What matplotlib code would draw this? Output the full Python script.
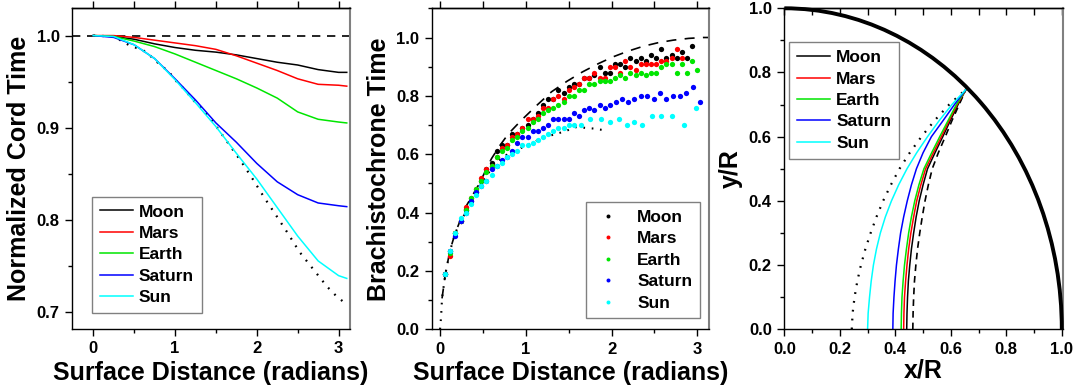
import matplotlib
matplotlib.use('Agg')
import matplotlib.pyplot as plt
from matplotlib.patches import Arc
from matplotlib.ticker import MultipleLocator, FormatStrFormatter

plt.rcParams['font.family'] = ['Liberation Sans', 'DejaVu Sans']
plt.rcParams['font.weight'] = 'bold'
plt.rcParams['axes.labelweight'] = 'bold'

# ---- dados: painel 1 (tempo de corda normalizado) ----
dist = [0, 0.25, 0.5, 0.75, 1.0, 1.25, 1.5, 1.75, 2.0, 2.25, 2.5, 2.75, 3.0, 3.1]
cord_moon = [1.0, 0.999, 0.996, 0.991, 0.987, 0.984, 0.982, 0.979, 0.975, 0.971, 0.968, 0.963, 0.960, 0.960]
cord_mars = [1.0, 1.0, 0.998, 0.995, 0.992, 0.989, 0.985, 0.978, 0.970, 0.962, 0.953, 0.947, 0.946, 0.945]
cord_earth = [1.0, 0.999, 0.994, 0.988, 0.980, 0.971, 0.962, 0.953, 0.943, 0.932, 0.917, 0.909, 0.906, 0.905]
cord_saturn = [1.0, 0.998, 0.990, 0.975, 0.953, 0.930, 0.905, 0.884, 0.861, 0.841, 0.827, 0.818, 0.815, 0.814]
cord_sun = [1.0, 0.999, 0.990, 0.975, 0.952, 0.927, 0.901, 0.872, 0.844, 0.813, 0.782, 0.755, 0.739, 0.736]
cord_lim_x = [0, 0.25, 0.45, 0.61, 0.71, 0.82, 0.92, 1.02, 1.12, 1.22, 1.35, 1.49, 1.65, 1.81,
              1.95, 2.09, 2.24, 2.38, 2.52, 2.69, 2.86, 2.97, 3.08]
cord_lim_y = [1.0, 0.999, 0.989, 0.984, 0.977, 0.968, 0.961, 0.950, 0.941, 0.930, 0.919, 0.903, 0.883, 0.863,
              0.844, 0.824, 0.804, 0.785, 0.765, 0.746, 0.727, 0.717, 0.709]
cord_ref_x = [-0.26, 3.14]
cord_ref_y = [1.0, 1.0]

# ---- dados: painel 2 (tempo da braquistocrona) ----
x_scan = [0.06, 0.12, 0.18, 0.24, 0.30, 0.36, 0.42, 0.48, 0.54, 0.60, 0.66, 0.72, 0.78, 0.84, 0.90,
          0.96, 1.02, 1.08, 1.14, 1.20, 1.26, 1.32, 1.38, 1.44, 1.50, 1.56, 1.62, 1.68, 1.74, 1.80,
          1.86, 1.92, 1.98, 2.04, 2.10, 2.16, 2.22, 2.28, 2.34, 2.40, 2.46, 2.52, 2.58, 2.64, 2.70,
          2.76, 2.82, 2.88, 2.94, 3.00]
brach_moon = [0.19, 0.27, 0.33, 0.37, 0.41, 0.44, 0.47, 0.51, 0.55, 0.57, 0.61, 0.63, 0.63, 0.67, 0.67,
              0.69, 0.70, 0.72, 0.74, 0.77, 0.79, 0.79, 0.82, 0.81, 0.83, 0.84, 0.84, 0.86, 0.86, 0.87,
              0.90, 0.88, 0.88, 0.91, 0.91, 0.90, 0.93, 0.92, 0.93, 0.92, 0.94, 0.93, 0.96, 0.93, 0.94,
              0.93, 0.95, 0.93, 0.97]
brach_mars = [0.19, 0.25, 0.33, 0.37, 0.42, 0.45, 0.48, 0.52, 0.55, 0.56, 0.59, 0.62, 0.63, 0.66, 0.67,
              0.69, 0.72, 0.72, 0.73, 0.76, 0.76, 0.79, 0.80, 0.79, 0.82, 0.83, 0.84, 0.86, 0.86, 0.88,
              0.86, 0.86, 0.90, 0.90, 0.88, 0.92, 0.90, 0.89, 0.91, 0.91, 0.91, 0.91, 0.92, 0.92, 0.93,
              0.96, 0.93]
brach_earth = [0.19, 0.26, 0.33, 0.37, 0.41, 0.45, 0.48, 0.51, 0.54, 0.56, 0.59, 0.61, 0.62, 0.65, 0.66,
               0.68, 0.69, 0.71, 0.72, 0.74, 0.75, 0.76, 0.77, 0.78, 0.80, 0.80, 0.82, 0.82, 0.84, 0.84,
               0.85, 0.85, 0.85, 0.86, 0.87, 0.86, 0.88, 0.87, 0.88, 0.87, 0.88, 0.88, 0.90, 0.91, 0.91,
               0.88, 0.91, 0.88, 0.92, 0.89]
saturn_x = [0.06, 0.12, 0.18, 0.24, 0.30, 0.36, 0.42, 0.48, 0.54, 0.60, 0.66, 0.72, 0.78, 0.84, 0.90,
            0.96, 1.02, 1.08, 1.14, 1.20, 1.26, 1.32, 1.38, 1.44, 1.50, 1.56, 1.62, 1.68, 1.74, 1.80,
            1.86, 1.92, 1.98, 2.05, 2.12, 2.19, 2.26, 2.34, 2.41, 2.49, 2.56, 2.64, 2.72, 2.80, 2.87,
            2.95, 3.03]
brach_saturn = [0.19, 0.27, 0.32, 0.37, 0.40, 0.44, 0.47, 0.49, 0.51, 0.55, 0.56, 0.58, 0.59, 0.61, 0.64,
                0.66, 0.66, 0.68, 0.68, 0.69, 0.70, 0.72, 0.72, 0.72, 0.72, 0.74, 0.73, 0.75, 0.76, 0.75,
                0.77, 0.76, 0.77, 0.78, 0.79, 0.78, 0.79, 0.80, 0.80, 0.79, 0.81, 0.79, 0.80, 0.80, 0.81,
                0.83, 0.78]
sun_x = [0.06, 0.12, 0.18, 0.24, 0.30, 0.36, 0.42, 0.48, 0.54, 0.60, 0.66, 0.72, 0.78, 0.84, 0.90,
         0.96, 1.02, 1.08, 1.14, 1.20, 1.26, 1.32, 1.38, 1.44, 1.50, 1.56, 1.64, 1.75, 1.88, 1.98,
         2.09, 2.18, 2.26, 2.36, 2.47, 2.58, 2.71, 2.85, 2.98]
brach_sun = [0.19, 0.27, 0.33, 0.38, 0.40, 0.43, 0.46, 0.49, 0.51, 0.53, 0.56, 0.57, 0.59, 0.60, 0.61,
             0.63, 0.63, 0.64, 0.65, 0.66, 0.67, 0.68, 0.69, 0.69, 0.70, 0.70, 0.70, 0.72, 0.72, 0.71,
             0.72, 0.70, 0.71, 0.70, 0.73, 0.73, 0.73, 0.70, 0.76]
upper_x = [0.023, 0.062, 0.117, 0.178, 0.237, 0.30, 0.44, 0.50, 0.60, 0.70, 0.80, 0.95, 1.13, 1.30,
           1.48, 1.66, 1.85, 2.02, 2.19, 2.37, 2.54, 2.72, 2.90, 3.07, 3.14]
upper_y = [0.106, 0.19, 0.272, 0.331, 0.374, 0.42, 0.49, 0.525, 0.585, 0.631, 0.671, 0.717, 0.768, 0.814,
           0.85, 0.882, 0.911, 0.934, 0.953, 0.970, 0.982, 0.991, 0.997, 1.0, 1.0]
lower_x = [0.0, 0.012, 0.023, 0.062, 0.117, 0.178, 0.237, 0.30, 0.40, 0.50, 0.60, 0.66, 0.80, 0.87,
           1.0, 1.1, 1.24, 1.44, 1.59, 1.79, 1.92]
lower_y = [0.0, 0.043, 0.106, 0.19, 0.27, 0.33, 0.37, 0.40, 0.46, 0.51, 0.55, 0.574, 0.603, 0.61,
           0.63, 0.643, 0.66, 0.677, 0.693, 0.688, 0.682]

# ---- dados: painel 3 (trajetorias x/R, y/R) ----
path_y = [0.0, 0.05, 0.1, 0.15, 0.2, 0.25, 0.3, 0.35, 0.4, 0.45, 0.5, 0.55, 0.6, 0.65, 0.7, 0.748]
path_moon = [0.441, 0.442, 0.444, 0.447, 0.452, 0.458, 0.466, 0.475, 0.486, 0.500, 0.516, 0.543, 0.571,
             0.598, 0.626, 0.655]
path_mars = [0.430, 0.431, 0.433, 0.437, 0.442, 0.448, 0.456, 0.466, 0.477, 0.492, 0.509, 0.537, 0.566,
             0.594, 0.623, 0.655]
path_earth = [0.421, 0.422, 0.424, 0.428, 0.433, 0.440, 0.448, 0.458, 0.470, 0.485, 0.503, 0.531, 0.560,
              0.590, 0.620, 0.655]
path_saturn = [0.391, 0.392, 0.395, 0.399, 0.404, 0.411, 0.419, 0.430, 0.443, 0.458, 0.476, 0.500, 0.530,
               0.572, 0.613, 0.655]
path_sun = [0.300, 0.302, 0.307, 0.313, 0.321, 0.332, 0.346, 0.364, 0.386, 0.412, 0.442, 0.477, 0.516,
            0.558, 0.604, 0.655]
path_dashed = [0.463, 0.464, 0.466, 0.469, 0.474, 0.480, 0.488, 0.497, 0.507, 0.519, 0.533, 0.555, 0.580,
               0.604, 0.630, 0.655]
path_dotted = [0.243, 0.246, 0.253, 0.263, 0.276, 0.292, 0.311, 0.332, 0.356, 0.384, 0.415, 0.452, 0.494,
               0.541, 0.594, 0.655]
planet_radius = 1.0

nomes = ['Moon', 'Mars', 'Earth', 'Saturn', 'Sun']
cores = ['black', '#ff0000', '#00e600', '#0000ff', '#00ffff']

fig = plt.figure(figsize=(10.78, 3.87), dpi=100)

ax1 = fig.add_axes([0.0668, 0.1499, 0.2579, 0.8295])
ax2 = fig.add_axes([0.4005, 0.1490, 0.2575, 0.8295])
ax3 = fig.add_axes([0.7276, 0.1491, 0.2583, 0.8295])


def estilo_eixos(ax, major, minor, top_dir):
    ax.tick_params(which='both', labelsize=12, width=1, direction='out',
                   top=False, right=False, pad=4)
    ax.tick_params(which='major', length=5)
    ax.tick_params(which='minor', length=3)
    for s in ['left', 'bottom', 'top']:
        ax.spines[s].set_linewidth(1.0)
    ax.spines['right'].set_color('#808080')
    ax.spines['right'].set_linewidth(1.5)
    # ticks do topo (sem rotulos)
    sec = ax.secondary_xaxis('top')
    sec.xaxis.set_major_locator(MultipleLocator(major))
    sec.xaxis.set_minor_locator(MultipleLocator(minor))
    sec.tick_params(which='both', direction=top_dir, labeltop=False, width=1, length=5)
    sec.spines['top'].set_linewidth(1.0)


leg_kw = dict(frameon=True, fancybox=False, framealpha=1, edgecolor='#808080',
              prop={'size': 12.5, 'weight': 'bold'}, borderaxespad=0)

# ---- painel 1 ----
ax1.plot(cord_ref_x, cord_ref_y, color='black', lw=1.2, dashes=(5, 4))
ax1.plot(cord_lim_x, cord_lim_y, color='black', lw=1.6, linestyle=(0, (0.8, 3.2)))
for nome, cor, vals in zip(nomes, cores, [cord_moon, cord_mars, cord_earth, cord_saturn, cord_sun]):
    ax1.plot(dist, vals, color=cor, lw=1.1, label=nome)
ax1.set_xlim(-0.26, 3.14)
ax1.set_ylim(0.681, 1.03)
ax1.xaxis.set_major_locator(MultipleLocator(1))
ax1.xaxis.set_minor_locator(MultipleLocator(0.5))
ax1.yaxis.set_major_locator(MultipleLocator(0.1))
ax1.yaxis.set_minor_locator(MultipleLocator(0.05))
ax1.yaxis.set_major_formatter(FormatStrFormatter('%.1f'))
ax1.set_xlabel('Surface Distance (radians)', fontsize=18, fontweight='bold', labelpad=3)
ax1.set_ylabel('Normalized Cord Time', fontsize=18, fontweight='bold', labelpad=4)
estilo_eixos(ax1, 1, 0.5, 'out')
ax1.legend(loc='lower left', bbox_to_anchor=(0.072, 0.05), handlelength=1.9,
           handletextpad=0.35, labelspacing=0.36, borderpad=0.45, **leg_kw)

# ---- painel 2 ----
ax2.plot(upper_x, upper_y, color='black', lw=1.2, dashes=(6, 5))
ax2.plot(lower_x, lower_y, color='black', lw=1.5, linestyle=(0, (0.8, 3.2)))
for nome, cor, xs, ys in zip(nomes, cores,
                             [x_scan[:len(brach_moon)], x_scan[:len(brach_mars)], x_scan, saturn_x, sun_x],
                             [brach_moon, brach_mars, brach_earth, brach_saturn, brach_sun]):
    ax2.plot(xs, ys, linestyle='none', marker='o', ms=3.8, mew=0, color=cor, label=nome)
ax2.set_xlim(-0.097, 3.14)
ax2.set_ylim(0.0, 1.10)
ax2.xaxis.set_major_locator(MultipleLocator(1))
ax2.xaxis.set_minor_locator(MultipleLocator(0.5))
ax2.yaxis.set_major_locator(MultipleLocator(0.2))
ax2.yaxis.set_minor_locator(MultipleLocator(0.1))
ax2.yaxis.set_major_formatter(FormatStrFormatter('%.1f'))
ax2.set_xlabel('Surface Distance (radians)', fontsize=18, fontweight='bold', labelpad=3)
ax2.set_ylabel('Brachistochrone Time', fontsize=18, fontweight='bold', labelpad=4)
estilo_eixos(ax2, 1, 0.5, 'out')
ax2.legend(loc='lower right', bbox_to_anchor=(0.967, 0.034), handlelength=1.6,
           handletextpad=0.9, labelspacing=0.36, borderpad=0.45, markerscale=0.75, **leg_kw)

# ---- painel 3 ----
ax3.add_patch(Arc((0, 0), 2 * planet_radius, 2 * planet_radius, theta1=0, theta2=90,
                  color='black', lw=2.8, clip_on=False, zorder=5))
ax3.plot(path_dashed, path_y, color='black', lw=1.2, dashes=(4, 3))
ax3.plot(path_dotted, path_y, color='black', lw=1.6, linestyle=(0, (0.8, 3.2)))
for nome, cor, vals in zip(nomes, cores, [path_moon, path_mars, path_earth, path_saturn, path_sun]):
    ax3.plot(vals, path_y, color=cor, lw=1.1, label=nome)
ax3.set_xlim(0, 1.0036)
ax3.set_ylim(0, 1.0)
for eixo in [ax3.xaxis, ax3.yaxis]:
    eixo.set_major_locator(MultipleLocator(0.2))
    eixo.set_minor_locator(MultipleLocator(0.1))
    eixo.set_major_formatter(FormatStrFormatter('%.1f'))
ax3.set_xlabel('x/R', fontsize=18, fontweight='bold', labelpad=1)
ax3.set_ylabel('y/R', fontsize=18, fontweight='bold', labelpad=4)
estilo_eixos(ax3, 0.1, 0.1, 'in')
ax3.legend(loc='upper left', bbox_to_anchor=(0.018, 0.894), handlelength=1.9,
           handletextpad=0.35, labelspacing=0.36, borderpad=0.45, **leg_kw)

fig.savefig('out.png', dpi=100)
